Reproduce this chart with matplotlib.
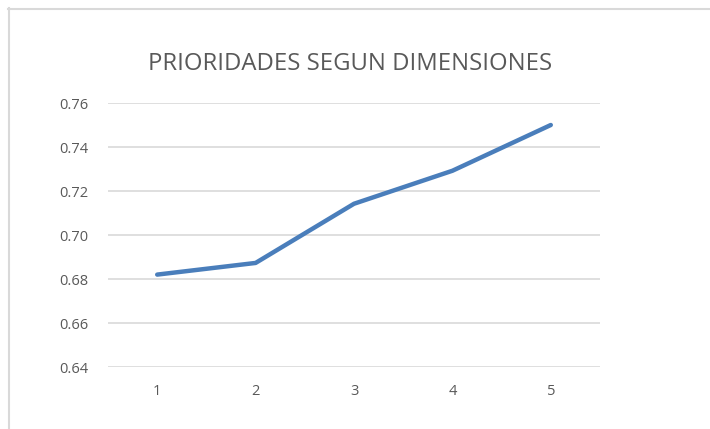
import matplotlib.pyplot as plt
from matplotlib.lines import Line2D

# data
dimensions = [1, 2, 3, 4, 5]
priorities = [0.682, 0.6873, 0.7142, 0.7292, 0.7500]
y_ticks = [0.64, 0.66, 0.68, 0.70, 0.72, 0.74, 0.76]
title = "PRIORIDADES SEGUN DIMENSIONES"

plt.rcParams['font.family'] = ['Open Sans', 'DejaVu Sans']
text_color = "#595959"
grid_color = "#D9D9D9"

fig = plt.figure(figsize=(7.10, 4.29), dpi=100)
ax = fig.add_axes([108 / 710, 1 - 367 / 429, 492 / 710, 264 / 429])

ax.plot(dimensions, priorities, color="#4A7EBB", linewidth=3.2,
        solid_capstyle="round", solid_joinstyle="round")

ax.set_xlim(0.5, 5.5)
ax.set_ylim(0.64, 0.76)
ax.set_xticks(dimensions)
ax.set_yticks(y_ticks)
ax.set_yticklabels([f"{v:.2f}" for v in y_ticks])
ax.yaxis.grid(True, color=grid_color, linewidth=1.2)
ax.set_axisbelow(True)
for s in ax.spines.values():
    s.set_visible(False)
ax.tick_params(axis="both", length=0, colors=text_color, labelsize=10.5)
ax.tick_params(axis="y", pad=14)
ax.tick_params(axis="x", pad=12)

fig.text(350 / 710, 1 - 64 / 429, title, ha="center", va="center",
         fontsize=17.2, color=text_color)

# outer chart frame (only left and top edges visible in the crop)
fig.add_artist(Line2D([8.5 / 710, 8.5 / 710], [0, 1 - 8 / 429],
                      transform=fig.transFigure, color=grid_color, linewidth=1.5))
fig.add_artist(Line2D([8 / 710, 1], [1 - 8.5 / 429, 1 - 8.5 / 429],
                      transform=fig.transFigure, color=grid_color, linewidth=1.5))

fig.savefig("out.png", dpi=100)
